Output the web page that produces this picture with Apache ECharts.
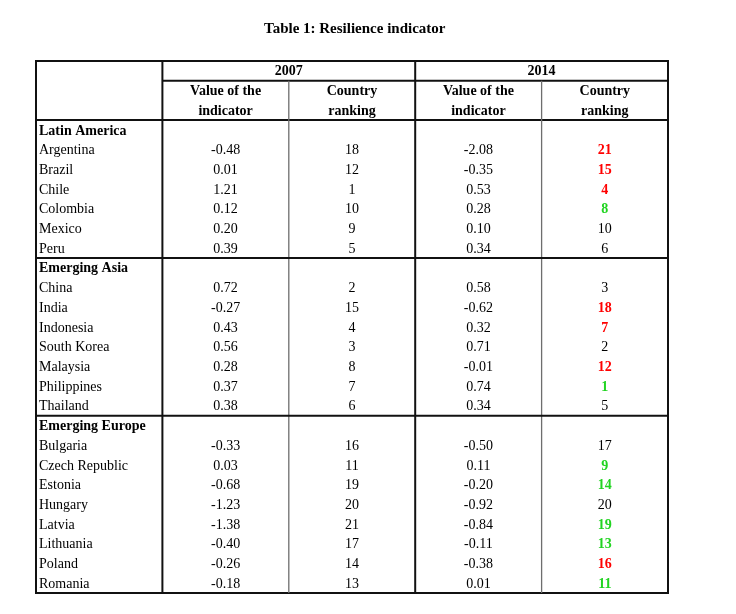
<!DOCTYPE html>
<html>
<head>
<meta charset="utf-8">
<script src="https://cdn.jsdelivr.net/npm/echarts@6/dist/echarts.min.js"></script>
<style>html,body{margin:0;padding:0;background:#fff;}#c{width:736px;height:614px;}</style>
</head>
<body>
<div id="c"></div>
<script>
const titleText = 'Table 1: Resilience indicator';
const years = ['2007', '2014'];
const subHeaders = [['Value of the', 'indicator'], ['Country', 'ranking']];
const groups = ['Latin America', 'Emerging Asia', 'Emerging Europe'];
const groupSizes = [6, 7, 8];
const countries = ['Argentina', 'Brazil', 'Chile', 'Colombia', 'Mexico', 'Peru',
  'China', 'India', 'Indonesia', 'South Korea', 'Malaysia', 'Philippines', 'Thailand',
  'Bulgaria', 'Czech Republic', 'Estonia', 'Hungary', 'Latvia', 'Lithuania', 'Poland', 'Romania'];
const value2007 = [-0.48, 0.01, 1.21, 0.12, 0.20, 0.39,
  0.72, -0.27, 0.43, 0.56, 0.28, 0.37, 0.38,
  -0.33, 0.03, -0.68, -1.23, -1.38, -0.40, -0.26, -0.18];
const rank2007 = [18, 12, 1, 10, 9, 5,
  2, 15, 4, 3, 8, 7, 6,
  16, 11, 19, 20, 21, 17, 14, 13];
const value2014 = [-2.08, -0.35, 0.53, 0.28, 0.10, 0.34,
  0.58, -0.62, 0.32, 0.71, -0.01, 0.74, 0.34,
  -0.50, 0.11, -0.20, -0.92, -0.84, -0.11, -0.38, 0.01];
const rank2014 = [21, 15, 4, 8, 10, 6,
  3, 18, 7, 2, 12, 1, 5,
  17, 9, 14, 20, 19, 13, 16, 11];
const rank2014Mark = ['down', 'down', 'down', 'up', '', '',
  '', 'down', 'down', '', 'down', 'up', '',
  '', 'up', 'up', '', 'up', 'up', 'down', 'up'];

const markColor = { up: '#22d422', down: '#ff0000', '': '#000000' };
const FONT = '"Liberation Serif", "Times New Roman", serif';

// build rows and cells
const rowNames = ['h0', 'h1', 'h2'];
const cells = [];
years.forEach((y, i) => {
  cells.push({ col: 1 + 2 * i, row: 0, text: y, bold: true, span: true });
  subHeaders.forEach((sh, j) => {
    cells.push({ col: 1 + 2 * i + j, row: 1, text: sh[0], bold: true });
    cells.push({ col: 1 + 2 * i + j, row: 2, text: sh[1], bold: true });
  });
});
const groupRows = [];
let ci = 0;
groups.forEach((g, gi) => {
  const r = rowNames.length;
  groupRows.push(r);
  rowNames.push(g);
  cells.push({ col: 0, row: r, text: g, bold: true, left: true });
  for (let k = 0; k < groupSizes[gi]; k++, ci++) {
    const rr = rowNames.length;
    rowNames.push(countries[ci]);
    cells.push({ col: 0, row: rr, text: countries[ci], left: true });
    cells.push({ col: 1, row: rr, text: value2007[ci].toFixed(2) });
    cells.push({ col: 2, row: rr, text: String(rank2007[ci]) });
    cells.push({ col: 3, row: rr, text: value2014[ci].toFixed(2) });
    const m = rank2014Mark[ci];
    cells.push({ col: 4, row: rr, text: String(rank2014[ci]), bold: m !== '', color: markColor[m] });
  }
});
const nRows = rowNames.length;
const colNames = ['Country', '2007 value', '2007 rank', '2014 value', '2014 rank'];

// table rules: [c1, r1, c2, r2, thick]
const rules = [
  [0, 0, 5, 0, 1], [0, nRows, 5, nRows, 1], [0, 0, 0, nRows, 1], [5, 0, 5, nRows, 1],
  [1, 1, 5, 1, 1], [0, 3, 5, 3, 1],
  [1, 0, 1, nRows, 1], [3, 0, 3, nRows, 1],
  [2, 1, 2, nRows, 0], [4, 1, 4, nRows, 0]
];
groupRows.slice(1).forEach(r => rules.push([0, r, 5, r, 1]));

const chart = echarts.init(document.getElementById('c'), null, { renderer: 'canvas' });
chart.setOption({
  animation: false,
  backgroundColor: '#ffffff',
  title: {
    text: titleText, left: 259, top: 17,
    textStyle: { fontFamily: FONT, fontSize: 15, fontWeight: 'bold', color: '#000' }
  },
  grid: { left: 36, top: 61, width: 632, height: 532 },
  xAxis: { type: 'category', data: colNames, show: false },
  yAxis: { type: 'category', data: rowNames, inverse: true, show: false },
  series: [
    {
      type: 'custom', name: 'rules', clip: false, silent: true,
      data: rules.map((r, i) => [0, 0, i]),
      renderItem: function (params, api) {
        const r = rules[params.dataIndex];
        const cs = params.coordSys;
        const cw = cs.width / 5, rh = cs.height / nRows;
        let x1 = cs.x + r[0] * cw, y1 = cs.y + r[1] * rh, x2 = cs.x + r[2] * cw, y2 = cs.y + r[3] * rh;
        const thick = r[4] === 1;
        if (thick) { if (r[0] === 0 && r[2] === 5) { x1 -= 1; x2 += 1; } if (r[1] === 0 && r[3] === nRows) { y1 -= 1; y2 += 1; } }
        return {
          type: 'line',
          shape: { x1, y1, x2, y2 },
          style: { stroke: thick ? '#111' : '#6e6e6e', lineWidth: thick ? 2 : 1.3 }
        };
      }
    },
    {
      type: 'custom', name: 'cells', clip: false, silent: true,
      data: cells.map(c => [c.col, c.row]),
      renderItem: function (params, api) {
        const c = cells[params.dataIndex];
        const p = api.coord([api.value(0), api.value(1)]);
        const s = api.size([1, 1]);
        let x = p[0], align = 'center';
        if (c.left) { x = p[0] - s[0] / 2 + 3; align = 'left'; }
        if (c.span) { x = p[0] + s[0] / 2; }
        return {
          type: 'text',
          style: {
            x: x, y: p[1] + 1, text: c.text,
            fill: c.color || '#000',
            font: (c.bold ? 'bold ' : '') + '14px ' + FONT,
            align: align, verticalAlign: 'middle'
          }
        };
      }
    }
  ]
});
</script>
</body>
</html>
